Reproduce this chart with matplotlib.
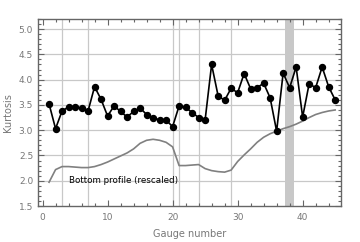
import matplotlib
matplotlib.use("Agg")
import matplotlib.pyplot as plt
from matplotlib.ticker import MultipleLocator

gauges = list(range(1, 46))
kurtosis = [3.52, 3.03, 3.38, 3.46, 3.46, 3.44, 3.38, 3.86, 3.61, 3.28,
            3.48, 3.37, 3.26, 3.37, 3.44, 3.31, 3.25, 3.20, 3.20, 3.07,
            3.48, 3.45, 3.35, 3.25, 3.20, 4.30, 3.68, 3.59, 3.83, 3.74,
            4.12, 3.82, 3.84, 3.93, 3.64, 2.98, 4.13, 3.84, 4.25, 3.26,
            3.92, 3.84, 4.25, 3.86, 3.60]
bottom = [1.97, 2.22, 2.28, 2.28, 2.27, 2.26, 2.26, 2.28, 2.32, 2.37,
          2.43, 2.49, 2.55, 2.63, 2.74, 2.80, 2.82, 2.80, 2.76, 2.67,
          2.30, 2.30, 2.31, 2.32, 2.24, 2.20, 2.18, 2.17, 2.21, 2.38,
          2.51, 2.63, 2.76, 2.86, 2.93, 2.98, 3.03, 3.07, 3.12, 3.18,
          3.25, 3.31, 3.35, 3.38, 3.40]
grid_x = [3, 7, 20, 21, 24, 29]
band = (37.3, 38.7)

fig = plt.figure(figsize=(3.6, 2.42), dpi=100)
ax = fig.add_axes([38/360, 1-206/242, (341-38)/360, (206-19)/242])
ax.set_xlim(-0.7, 45.9)
ax.set_ylim(1.5, 5.2)

gc = '#c8c8c8'
for gx in grid_x:
    ax.axvline(gx, color=gc, lw=0.9, zorder=0)
for gy in [2.0, 2.5, 3.0, 3.5, 4.0, 4.5, 5.0]:
    ax.axhline(gy, color=gc, lw=0.9, zorder=0)
ax.axvspan(band[0], band[1], color='#c8c8c8', lw=0, zorder=0.5)

ax.plot(gauges, bottom, color='#808080', lw=1.2, zorder=2)
ax.plot(gauges, kurtosis, color='black', lw=1.2, marker='o', ms=4.3, zorder=3)
ax.text(4.1, 2.0, 'Bottom profile (rescaled)', fontsize=6.3, va='center', ha='left', color='black')

ax.xaxis.set_major_locator(MultipleLocator(10))
ax.xaxis.set_minor_locator(MultipleLocator(2))
ax.yaxis.set_major_locator(MultipleLocator(0.5))
ax.yaxis.set_minor_locator(MultipleLocator(0.1))
sc = '#666666'
ax.tick_params(which='both', direction='in', top=True, right=True, color=sc,
               labelsize=6.5, labelcolor='#777777', width=0.8)
ax.tick_params(which='major', length=4)
ax.tick_params(which='minor', length=2)
ax.tick_params(axis='x', pad=5)
ax.set_yticks([1.5, 2.0, 2.5, 3.0, 3.5, 4.0, 4.5, 5.0])
ax.set_yticklabels(['1.5', '2.0', '2.5', '3.0', '3.5', '4.0', '4.5', '5.0'])
for s in ax.spines.values():
    s.set_color(sc)
    s.set_linewidth(1.0)
ax.set_xlabel('Gauge number', fontsize=7, color='#777777', labelpad=5)
ax.set_ylabel('Kurtosis', fontsize=7, color='#777777', labelpad=4)

fig.savefig('out.png', dpi=100)
